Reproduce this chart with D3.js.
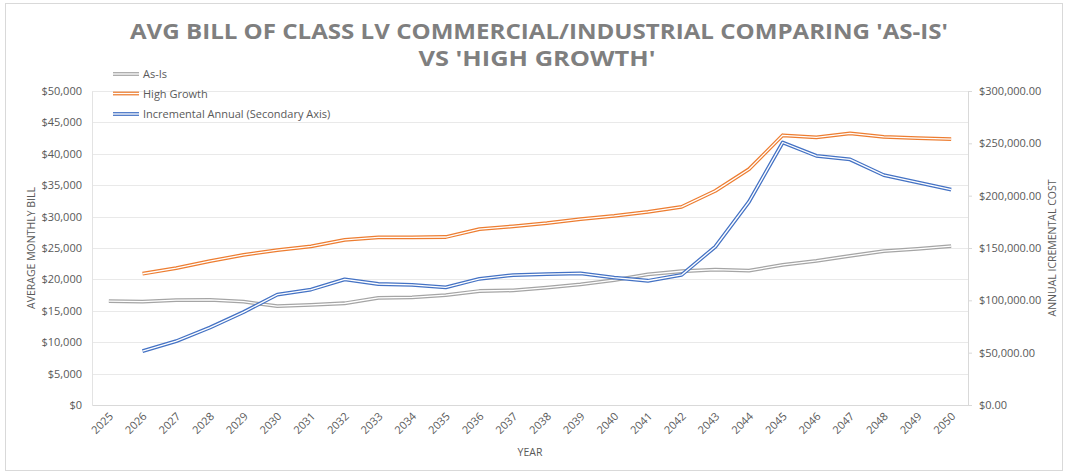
<!DOCTYPE html>
<html>
<head>
<meta charset="utf-8">
<script src="https://cdn.jsdelivr.net/npm/d3@7/dist/d3.min.js"></script>
<style>
html,body{margin:0;padding:0;background:#fff;}
svg{display:block;}
text{font-family:"Open Sans","Noto Sans",sans-serif;}
</style>
</head>
<body>
<svg id="chart" width="1068" height="474"></svg>
<script>
const years = ["2025","2026","2027","2028","2029","2030","2031","2032","2033","2034","2035","2036","2037","2038","2039","2040","2041","2042","2043","2044","2045","2046","2047","2048","2049","2050"];
const asIs = [16550,16450,16700,16750,16450,15750,15950,16200,17050,17150,17500,18150,18250,18700,19200,19900,20800,21300,21550,21400,22300,22950,23750,24500,24850,25300];
const highGrowth = [null,20900,21800,22900,23900,24650,25250,26300,26700,26700,26750,28000,28450,28950,29600,30100,30750,31550,34100,37550,42950,42600,43250,42700,42500,42350];
const incremental = [null,51500,61000,74000,88800,105500,110300,120000,115600,114800,112300,120600,124100,125100,125700,121600,118700,124300,151200,194200,250800,238100,234600,219600,212600,205700];
const leftTicks = [0,5000,10000,15000,20000,25000,30000,35000,40000,45000,50000];
const rightTicks = [0,50000,100000,150000,200000,250000,300000];
const seriesNames = ["As-Is","High Growth","Incremental Annual (Secondary Axis)"];
const seriesColors = ["#A5A5A5","#ED7D31","#4472C4"];
const titleLines = ["AVG BILL OF CLASS LV COMMERCIAL/INDUSTRIAL COMPARING 'AS-IS'","VS 'HIGH GROWTH'"];

const svg = d3.select("#chart");
const W = 1068, H = 474;
const m = {left:92, right:968, top:91, bottom:405};

// frame
svg.append("rect").attr("x",5.5).attr("y",3.5).attr("width",1057).attr("height",467)
  .attr("fill","#fff").attr("stroke","#d9d9d9").attr("stroke-width",1);

const x = d3.scaleBand().domain(years).range([m.left,m.right]).paddingInner(0).paddingOuter(0);
const yL = d3.scaleLinear().domain([0,50000]).range([m.bottom,m.top]);
const yR = d3.scaleLinear().domain([0,300000]).range([m.bottom,m.top]);

// gridlines
svg.append("g").selectAll("line").data(leftTicks.slice(1)).join("line")
  .attr("x1",m.left).attr("x2",m.right)
  .attr("y1",d=>Math.round(yL(d))+0.5).attr("y2",d=>Math.round(yL(d))+0.5)
  .attr("stroke","#e9e9e9").attr("stroke-width",1);

// left axis
const gL = svg.append("g").attr("transform",`translate(${m.left},0)`)
  .call(d3.axisLeft(yL).tickValues(leftTicks).tickFormat(d=>"$"+d3.format(",")(d)).tickSize(0).tickPadding(10));
gL.select(".domain").attr("stroke","#e3e3e3");
gL.selectAll("text").attr("fill","#595959").style("font-size","11px");

// right axis
const gR = svg.append("g").attr("transform",`translate(${m.right},0)`)
  .call(d3.axisRight(yR).tickValues(rightTicks).tickFormat(d=>"$"+d3.format(",.2f")(d)).tickSize(4).tickPadding(7));
gR.select(".domain").attr("stroke","#d9d9d9");
gR.selectAll("line").attr("stroke","#d9d9d9");
gR.selectAll("text").attr("fill","#595959").style("font-size","11px");

// bottom axis
const gB = svg.append("g").attr("transform",`translate(0,${m.bottom})`)
  .call(d3.axisBottom(x).tickSize(0).tickPadding(0));
gB.select(".domain").attr("stroke","#d9d9d9");
gB.selectAll("text")
  .attr("fill","#595959").style("font-size","11px")
  .attr("text-anchor","end")
  .attr("dy",0)
  .attr("transform","translate(5,12) rotate(-45)");

// axis titles
svg.append("text").attr("transform","translate(35,248) rotate(-90)")
  .attr("text-anchor","middle").attr("fill","#595959").style("font-size","10.5px")
  .text("AVERAGE MONTHLY BILL");
svg.append("text").attr("transform","translate(1056,248) rotate(-90)")
  .attr("text-anchor","middle").attr("fill","#595959").style("font-size","10.5px")
  .text("ANNUAL ICREMENTAL COST");
svg.append("text").attr("x",530).attr("y",456)
  .attr("text-anchor","middle").attr("fill","#595959").style("font-size","10.5px")
  .text("YEAR");

// title
svg.append("text").attr("x",539).attr("y",39).attr("text-anchor","middle")
  .attr("fill","#7f7f7f").style("font-size","21px").style("font-weight","bold")
  .attr("textLength",818).attr("lengthAdjust","spacingAndGlyphs")
  .text(titleLines[0]);
svg.append("text").attr("x",537).attr("y",66).attr("text-anchor","middle")
  .attr("fill","#7f7f7f").style("font-size","21px").style("font-weight","bold")
  .attr("textLength",237).attr("lengthAdjust","spacingAndGlyphs")
  .text(titleLines[1]);

// lines
const cx = d=>x(d)+x.bandwidth()/2;
function drawDouble(vals, yScale, color){
  const line = d3.line().defined(d=>d[1]!=null).x(d=>cx(d[0])).y(d=>yScale(d[1]));
  const data = years.map((yr,i)=>[yr, vals[i]]);
  svg.append("path").datum(data).attr("d",line).attr("fill","none")
    .attr("stroke",color).attr("stroke-width",3.8).attr("stroke-linejoin","round");
  svg.append("path").datum(data).attr("d",line).attr("fill","none")
    .attr("stroke","#fff").attr("stroke-width",1.3).attr("stroke-linejoin","round");
}
drawDouble(asIs, yL, seriesColors[0]);
drawDouble(highGrowth, yL, seriesColors[1]);
drawDouble(incremental, yR, seriesColors[2]);

// legend
const legY = [74,93.5,114];
seriesNames.forEach((n,i)=>{
  const g = svg.append("g");
  g.append("line").attr("x1",113).attr("x2",139).attr("y1",legY[i]).attr("y2",legY[i])
    .attr("stroke",seriesColors[i]).attr("stroke-width",3.8);
  g.append("line").attr("x1",113).attr("x2",139).attr("y1",legY[i]).attr("y2",legY[i])
    .attr("stroke","#fff").attr("stroke-width",1.3);
  g.append("text").attr("x",143).attr("y",legY[i]+4).attr("fill","#595959")
    .style("font-size","11px").text(n);
});
</script>
</body>
</html>
